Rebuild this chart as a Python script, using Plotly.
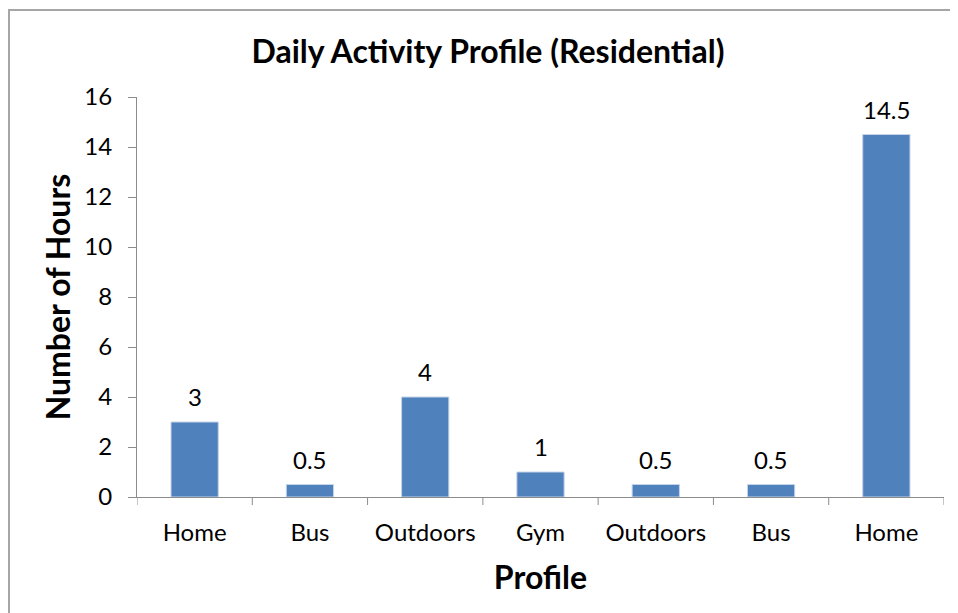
import plotly.graph_objects as go

categories = ["Home", "Bus", "Outdoors", "Gym", "Outdoors", "Bus", "Home"]
hours = [3, 0.5, 4, 1, 0.5, 0.5, 14.5]
labels = ["3", "0.5", "4", "1", "0.5", "0.5", "14.5"]

positions = list(range(len(categories)))
font_family = "Lato, 'Open Sans', sans-serif"
axis_grey = "#8c8c8c"

# the page body adds an 8px margin, so the figure is drawn 8px smaller
W, H = 950, 605
ML, MR, MT, MB = 129, 14, 89, 116
plot_w = W - ML - MR
plot_h = H - MT - MB

fig = go.Figure()
fig.add_trace(
    go.Bar(
        x=positions,
        y=hours,
        marker=dict(color="#4F81BD", line=dict(color="#c6d4e8", width=1)),
        width=0.41,
    )
)

for p, v, t in zip(positions, hours, labels):
    fig.add_annotation(
        x=p, y=v, text=t, showarrow=False,
        yanchor="bottom", yshift=9,
        font=dict(size=24, color="black"),
    )

fig.update_layout(
    width=W,
    height=H,
    margin=dict(l=ML, r=MR, t=MT, b=MB),
    paper_bgcolor="white",
    plot_bgcolor="white",
    font=dict(family=font_family, color="black"),
    showlegend=False,
    title=dict(
        text="<b>Daily Activity Profile (Residential)</b>",
        x=480 / W,
        xref="container",
        xanchor="center",
        y=1 - 44 / H,
        yref="container",
        yanchor="middle",
        font=dict(size=32),
    ),
    xaxis=dict(
        tickmode="array",
        tickvals=positions,
        ticktext=categories,
        range=[-0.5, len(categories) - 0.5],
        showline=True,
        linecolor=axis_grey,
        linewidth=1,
        ticks="",
        ticklabelstandoff=14,
        showgrid=False,
        tickfont=dict(size=24),
        title=dict(text="<b>Profile</b>", font=dict(size=32), standoff=21),
        zeroline=False,
    ),
    yaxis=dict(
        range=[0, 16],
        dtick=2,
        showline=True,
        linecolor=axis_grey,
        linewidth=1,
        ticks="outside",
        ticklen=8,
        tickcolor=axis_grey,
        ticklabelstandoff=11,
        showgrid=False,
        zeroline=False,
        tickfont=dict(size=24),
        title=dict(text="<b>Number of Hours</b>", font=dict(size=32), standoff=4),
    ),
)

# category boundary tick marks below the x axis
for b in [i - 0.5 for i in range(len(categories) + 1)]:
    fig.add_shape(
        type="line", xref="x", yref="paper",
        x0=b, x1=b, y0=0, y1=-8 / plot_h,
        line=dict(color=axis_grey, width=1),
    )

# chart frame (only top and left edges are inside the picture)
fig.add_shape(
    type="rect", xref="paper", yref="paper",
    x0=(1 - ML) / plot_w, x1=1.2, y0=1 + (MT - 2) / plot_h, y1=-0.5,
    line=dict(color="#a6a6a6", width=2),
    layer="below",
)

fig.write_html("out.html")
